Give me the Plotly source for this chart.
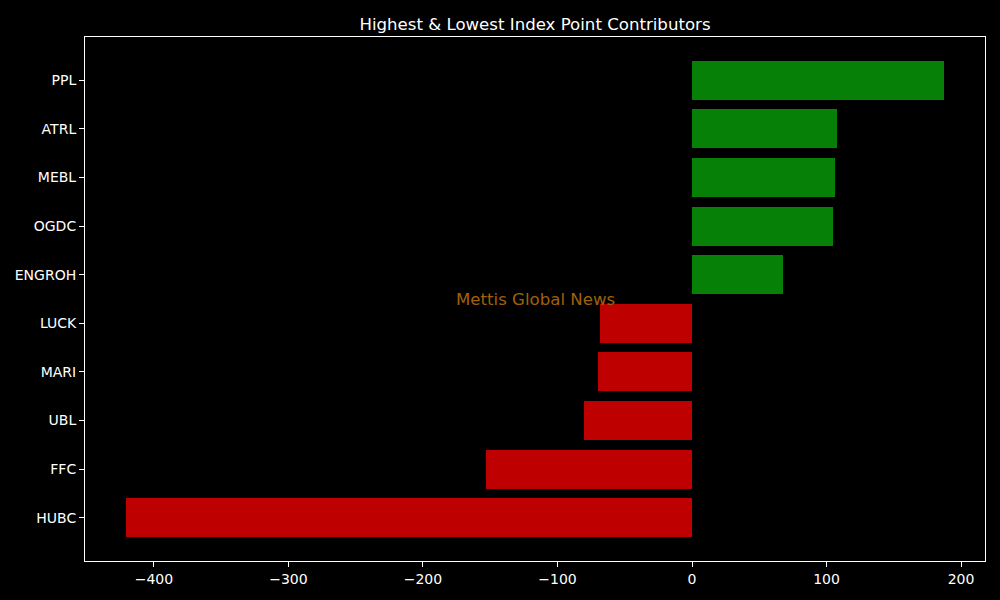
import plotly.graph_objects as go

# contributors, bottom to top
stocks = ["HUBC", "FFC", "UBL", "MARI", "LUCK", "ENGROH", "OGDC", "MEBL", "ATRL", "PPL"]
points = [-420.8, -153.2, -80.3, -69.9, -68.4, 67.7, 104.8, 106.3, 107.8, 187.4]
x_ticks = [-400, -300, -200, -100, 0, 100, 200]
x_tick_text = ["\u2212400", "\u2212300", "\u2212200", "\u2212100", "0", "100", "200"]

bar_colors = ["#078007" if v > 0 else "#bf0000" for v in points]

fig = go.Figure()
fig.add_trace(go.Bar(
    x=points,
    y=list(range(len(stocks))),
    orientation="h",
    width=0.8,
    marker=dict(color=bar_colors, line=dict(width=0)),
    showlegend=False,
))

# watermark in the middle of the axes
fig.add_annotation(
    text="Mettis Global News",
    xref="paper", yref="paper", x=0.5, y=0.5,
    xanchor="center", yanchor="middle",
    showarrow=False,
    font=dict(family="DejaVu Sans", size=16.6, color="#a0600a"),
)

axis_common = dict(
    showgrid=False, zeroline=False,
    showline=True, linecolor="white", linewidth=1, mirror=True,
    ticks="outside", ticklen=5, tickcolor="white", tickwidth=1,
    tickfont=dict(family="DejaVu Sans", size=14, color="white"),
)

fig.update_layout(
    width=1000, height=600,
    paper_bgcolor="black", plot_bgcolor="black",
    margin=dict(l=85, r=15, t=37, b=39),
    title=dict(
        text="Highest & Lowest Index Point Contributors",
        xref="paper", x=0.5, xanchor="center", y=0.96, yanchor="middle",
        font=dict(family="DejaVu Sans", size=16.6, color="white"),
    ),
    xaxis=dict(range=[-451.2, 217.8], tickvals=x_ticks, ticktext=x_tick_text, **axis_common),
    yaxis=dict(range=[-0.89, 9.89], tickvals=list(range(len(stocks))), ticktext=stocks, **axis_common),
    bargap=0,
)

fig.write_html(
    "out.html",
    config={"displayModeBar": False},
    post_script="document.body.style.margin='0';document.body.style.background='black';",
)
